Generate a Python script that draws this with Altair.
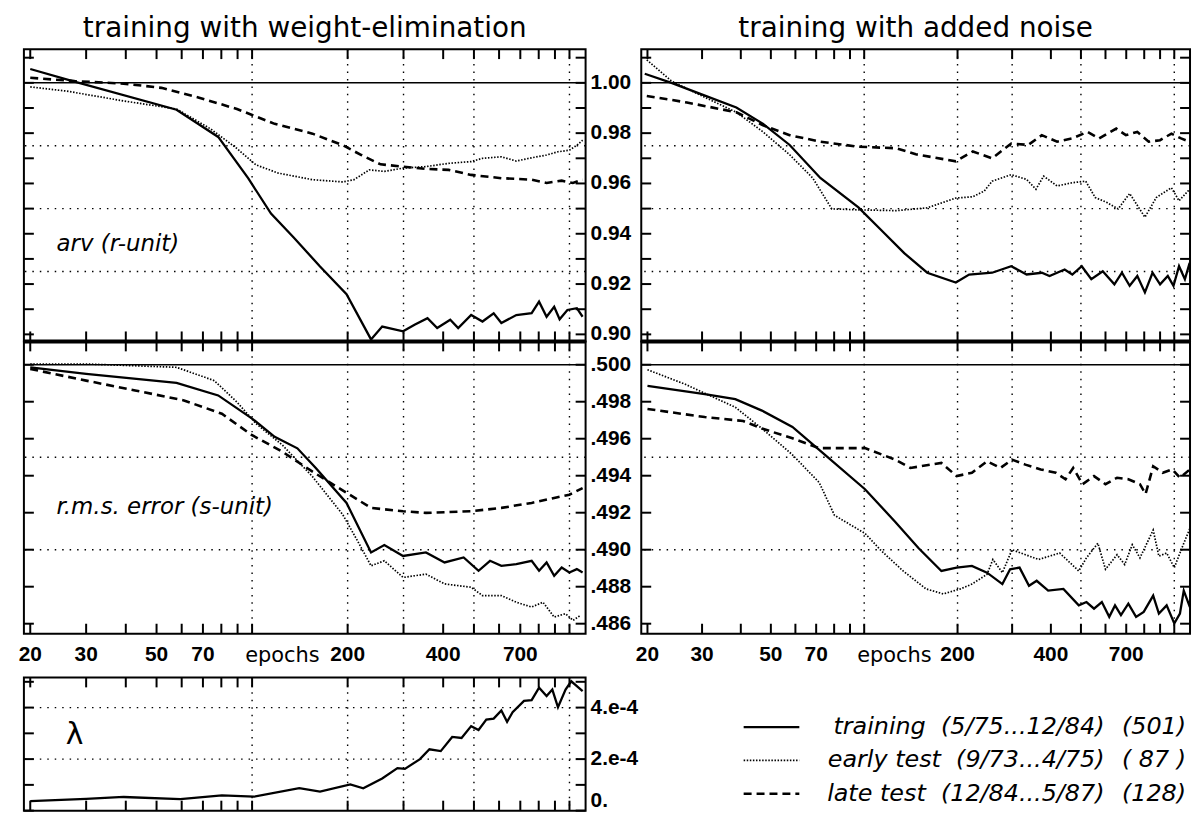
import altair as alt
import pandas as pd

# ---------------- data ----------------
# weight-elimination, arv
we_arv_train_x = [20, 27.2, 57.8, 78.2, 97.3, 114.7, 135, 163.7, 198.4, 237, 257, 299, 325, 357, 383, 421, 446, 490, 532, 577, 610, 680, 760, 802, 847, 895, 931, 985, 1055, 1100]
we_arv_train_y = [1.0055, 1.0007, 0.9893, 0.9785, 0.962, 0.948, 0.9386, 0.927, 0.916, 0.898, 0.9031, 0.9012, 0.9038, 0.9064, 0.9025, 0.9058, 0.9025, 0.9077, 0.9051, 0.9084, 0.9045, 0.9077, 0.9084, 0.913, 0.907, 0.911, 0.906, 0.9097, 0.9104, 0.907]
we_arv_early_x = [20, 26.1, 39.4, 57.8, 74, 89.6, 102.8, 121, 155, 193, 209.5, 234, 261, 299, 353, 416, 490, 532, 610, 680, 760, 847, 920, 999, 1055, 1100]
we_arv_early_y = [0.9984, 0.9967, 0.9928, 0.9896, 0.9817, 0.9739, 0.9674, 0.9641, 0.9615, 0.9606, 0.9615, 0.9654, 0.9648, 0.9661, 0.9667, 0.968, 0.9687, 0.97, 0.9706, 0.9689, 0.9702, 0.9713, 0.9726, 0.9732, 0.9752, 0.9772]
we_arv_late_x = [20, 27.6, 39.4, 51.8, 68.1, 89.6, 117.8, 155, 193, 221, 254, 299, 353, 416, 490, 610, 760, 847, 945, 1025, 1100]
we_arv_late_y = [1.002, 1.0007, 0.9997, 0.998, 0.9941, 0.9896, 0.9837, 0.9798, 0.9752, 0.9713, 0.9676, 0.9667, 0.9658, 0.9654, 0.9634, 0.9621, 0.9615, 0.9602, 0.9611, 0.9602, 0.9615]

# added noise, arv
an_arv_train_x = [19.6, 23.9, 30.8, 38.7, 47.2, 57.5, 72.2, 95.8, 113.6, 134.6, 159.7, 197.5, 218, 258.5, 298, 334, 374, 396, 443, 469, 503, 540, 588, 641, 678, 718, 760, 804, 851, 900, 953, 994, 1036, 1082, 1121]
an_arv_train_y = [1.0036, 1.0, 0.9948, 0.9902, 0.9837, 0.9753, 0.9622, 0.9505, 0.9414, 0.9323, 0.9245, 0.9206, 0.9238, 0.9245, 0.9271, 0.9238, 0.9245, 0.9232, 0.9258, 0.9238, 0.9271, 0.9219, 0.9251, 0.9199, 0.9245, 0.9193, 0.9232, 0.9167, 0.9245, 0.9199, 0.9232, 0.9193, 0.9271, 0.9219, 0.9284]
an_arv_early_x = [19.9, 23.9, 30.8, 38.7, 47.2, 57.5, 68.2, 78.6, 95.8, 127, 159.7, 197.5, 224, 244, 258.5, 298, 334, 358, 379, 419, 469, 518, 556, 605, 659, 718, 804, 875, 926, 979, 1036, 1121]
an_arv_early_y = [1.0091, 1.0007, 0.9941, 0.9883, 0.9805, 0.9714, 0.9622, 0.9499, 0.9495, 0.9492, 0.9503, 0.9542, 0.9547, 0.957, 0.9609, 0.9635, 0.9616, 0.9577, 0.9629, 0.959, 0.9603, 0.9609, 0.9544, 0.9525, 0.9499, 0.956, 0.9466, 0.9544, 0.9564, 0.9583, 0.9531, 0.9577]
an_arv_late_x = [19.9, 26.8, 38.7, 47.2, 57.5, 72.2, 95.8, 127, 146.7, 197.5, 224, 258.5, 298, 338, 374, 419, 469, 525, 572, 650, 698, 760, 827, 900, 979, 1052, 1121]
an_arv_late_y = [0.9948, 0.9922, 0.9883, 0.9831, 0.9792, 0.9766, 0.9746, 0.974, 0.9716, 0.9688, 0.9727, 0.97, 0.9759, 0.9753, 0.9792, 0.9766, 0.9779, 0.9805, 0.9779, 0.9818, 0.9792, 0.9805, 0.9766, 0.9772, 0.9798, 0.9779, 0.9766]

# weight-elimination, r.m.s. error
we_rms_train_x = [20, 30, 57.8, 78.2, 100, 117.8, 138.9, 159, 198.4, 237, 261, 299, 353, 404, 464, 517, 562, 610, 680, 760, 802, 847, 895, 945, 999, 1055, 1100]
we_rms_train_y = [0.49986, 0.4995, 0.49902, 0.49834, 0.49709, 0.4961, 0.49548, 0.4944, 0.49253, 0.48985, 0.49025, 0.48966, 0.48985, 0.48931, 0.48958, 0.48886, 0.4894, 0.48913, 0.48922, 0.4894, 0.48886, 0.48931, 0.48859, 0.48904, 0.48877, 0.48895, 0.48877]
we_rms_early_x = [20, 30, 57.8, 76, 89.6, 102.8, 124.5, 155, 193, 215, 237, 261, 299, 353, 404, 490, 532, 610, 680, 760, 825, 895, 972, 1026, 1084]
we_rms_early_y = [0.50004, 0.50004, 0.49986, 0.49914, 0.49798, 0.49682, 0.49566, 0.49395, 0.4919, 0.49047, 0.48913, 0.4894, 0.4885, 0.48868, 0.48815, 0.48797, 0.48752, 0.48752, 0.48716, 0.4869, 0.48716, 0.48636, 0.48654, 0.48618, 0.48645]
we_rms_late_x = [20, 30, 42.8, 61, 80.3, 100, 124.5, 155, 187.8, 237, 299, 353, 490, 610, 760, 895, 999, 1100]
we_rms_late_y = [0.49977, 0.49914, 0.49861, 0.49807, 0.49735, 0.49619, 0.4953, 0.49422, 0.49333, 0.49226, 0.49208, 0.49199, 0.49208, 0.49226, 0.49253, 0.4928, 0.49297, 0.49333]

# added noise, r.m.s. error
an_rms_train_x = [20, 30.6, 38.4, 46.8, 58.7, 71.6, 100.6, 126, 149.6, 177.4, 198.6, 222.5, 249, 279, 295.5, 317, 340, 360, 392, 439, 492, 521, 551, 584, 617, 644, 673, 711, 753, 797, 855, 892, 945, 1000, 1043, 1073, 1123]
an_rms_train_y = [0.49885, 0.49841, 0.49814, 0.49752, 0.49664, 0.4954, 0.49327, 0.4915, 0.49009, 0.48885, 0.48903, 0.48912, 0.48876, 0.48814, 0.48894, 0.48903, 0.48805, 0.48832, 0.48779, 0.48788, 0.48699, 0.48717, 0.48681, 0.48717, 0.48637, 0.48699, 0.48646, 0.48708, 0.48637, 0.48664, 0.48752, 0.48655, 0.48699, 0.48602, 0.48655, 0.48779, 0.4869]
an_rms_early_x = [20, 26.5, 38.4, 46.8, 58.7, 71.6, 80.2, 100.6, 112.6, 133.5, 158.3, 179.9, 204.3, 222.5, 249, 260, 279, 299.7, 331, 365, 427, 492, 521, 567, 600, 654, 692, 732, 775, 855, 892, 945, 1000, 1058, 1123]
an_rms_early_y = [0.49973, 0.49894, 0.4977, 0.49655, 0.49513, 0.49363, 0.49186, 0.49088, 0.49, 0.48885, 0.48788, 0.48761, 0.48788, 0.48814, 0.48867, 0.48947, 0.48876, 0.49, 0.48973, 0.48947, 0.48982, 0.48885, 0.48956, 0.49035, 0.48894, 0.48973, 0.4892, 0.49027, 0.48956, 0.49106, 0.48965, 0.48982, 0.48903, 0.49009, 0.49115]
an_rms_late_x = [20, 30.6, 40.7, 46.8, 58.7, 71.6, 100.6, 126, 141, 177.4, 198.6, 222.5, 249, 275, 299.7, 331, 371, 415, 446, 472, 506, 551, 600, 654, 711, 775, 808, 855, 918, 986, 1043, 1123]
an_rms_late_y = [0.49761, 0.49717, 0.49696, 0.49655, 0.49602, 0.49549, 0.49549, 0.49487, 0.49442, 0.49469, 0.49398, 0.49416, 0.49478, 0.49442, 0.49487, 0.4946, 0.49434, 0.49416, 0.49381, 0.49442, 0.49354, 0.49398, 0.49354, 0.49389, 0.49381, 0.49354, 0.49301, 0.49451, 0.49416, 0.49434, 0.49389, 0.49434]

# lambda (units of 1e-4)
lam_x = [20, 30, 39.4, 59.4, 80.3, 101.4, 140.8, 163.7, 203.9, 224, 257, 287, 303, 338, 362, 393, 427, 457, 490, 517, 547, 577, 610, 636, 662, 719, 760, 802, 847, 883, 920, 972, 1013, 1055, 1100]
lam_y = [0.37, 0.46, 0.53, 0.45, 0.59, 0.54, 0.87, 0.74, 1.02, 0.87, 1.25, 1.65, 1.62, 2.0, 2.38, 2.31, 2.86, 2.82, 3.28, 3.13, 3.53, 3.57, 3.89, 3.45, 3.82, 4.26, 4.29, 4.77, 4.45, 4.7, 4.01, 4.7, 5.02, 4.83, 4.64]

# ticks, grids, labels
x_ticks = [20, 30, 40, 50, 60, 70, 80, 90, 100, 200, 300, 400, 500, 600, 700, 800, 900, 1000]
x_grid = [100, 200, 300, 500, 1000]
x_label_vals = [20, 30, 50, 70, 200, 400, 700]
x_label_txt = ["20", "30", "50", "70", "200", "400", "700"]
x_name_val = [100]
x_name_txt = ["epochs"]
arv_ticks = [0.90, 0.91, 0.92, 0.93, 0.94, 0.95, 0.96, 0.97, 0.98, 0.99, 1.00, 1.01]
arv_label_vals = [0.90, 0.92, 0.94, 0.96, 0.98, 1.00]
arv_label_txt = ["0.90", "0.92", "0.94", "0.96", "0.98", "1.00"]
arv_grid = [0.925, 0.95, 0.975]
arv_ref = [1.0]
rms_ticks = [0.486, 0.488, 0.490, 0.492, 0.494, 0.496, 0.498, 0.500]
rms_label_vals = [0.486, 0.488, 0.490, 0.492, 0.494, 0.496, 0.498, 0.500]
rms_label_txt = [".486", ".488", ".490", ".492", ".494", ".496", ".498", ".500"]
rms_grid = [0.490, 0.495]
rms_ref = [0.500]
lam_ticks = [0, 1, 2, 3, 4, 5]
lam_label_vals = [2, 4]
lam_label_txt = ["2.e-4", "4.e-4"]
lam_zero_val = [0]
lam_zero_txt = ["0."]
lam_grid = [2, 4]

# annotations
arv_note = {"x": [24.2], "y": [0.9358], "t": ["arv (r-unit)"]}
rms_note = {"x": [24.2], "y": [0.49228], "t": ["r.m.s. error (s-unit)"]}
lam_note = {"x": [27.6], "y": [2.94], "t": ["\u03bb"]}

titles = ["training with weight-elimination", "training with added noise"]
leg_rows = [1, 2, 3]
leg_main = ["training\u00a0\u00a0(5/75...12/84)", "early test\u00a0\u00a0(9/73...4/75)", "late test\u00a0\u00a0(12/84...5/87)"]
leg_count = ["(501)", "(\u00a087\u00a0)", "(128)"]

# ---------------- styles ----------------
WL, WR = 565, 552
H1, H2 = 294, 294
GAP3, H3 = 44, 134            # gap above lambda frame, lambda frame height
H3T = GAP3 + H3
XDOM = [19.1, 1124]
ARV_DOM = [0.8972, 1.0134]
RMS_DOM = [0.48546, 0.50126]
LAM_DOM = [0, 5.17]
TL = 10
NUMFONT = "Liberation Sans"
TXTFONT = "DejaVu Sans"

STYLES = {
    "train": dict(strokeWidth=2.3),
    "early": dict(strokeWidth=1.7, strokeDash=[1.5, 1.6]),
    "late": dict(strokeWidth=2.6, strokeDash=[8, 5]),
}
NUMTXT = dict(font=NUMFONT, fontWeight="bold", fontSize=21, color="black")


def df(**cols):
    return pd.DataFrame(cols)


def panel(series, ydom, yticks, ygrid, yref, width, height, ylabels=(), xlabels=False,
          note=None, note_size=23, note_italic=True, note_align="left",
          thick_bottom=False, top=0, border=False):
    """top: empty pixel band above the frame (used for the lambda row)."""
    xs = alt.Scale(type="log", domain=XDOM, nice=False)
    if top:
        ys = alt.Scale(domain=ydom, nice=False, zero=False, range=[height, top])
    else:
        ys = alt.Scale(domain=ydom, nice=False, zero=False)
    X = lambda f: alt.X(f, scale=xs, axis=None)
    Y = lambda f: alt.Y(f, scale=ys, axis=None)
    layers = []
    dot = dict(color="black", strokeWidth=1.4, strokeDash=[1.5, 6])
    layers.append(alt.Chart(df(v=ygrid)).mark_rule(**dot).encode(y=Y("v:Q")))
    layers.append(alt.Chart(df(v=x_grid)).mark_rule(**dot).encode(
        x=X("v:Q"), y=alt.value(top), y2=alt.value(height)))
    if yref:
        layers.append(alt.Chart(df(v=yref)).mark_rule(color="black", strokeWidth=1.5).encode(y=Y("v:Q")))
    dx = df(v=x_ticks)
    dy = df(v=yticks)
    tick = dict(color="black", strokeWidth=2)
    layers.append(alt.Chart(dx).mark_rule(**tick).encode(x=X("v:Q"), y=alt.value(top), y2=alt.value(top + TL)))
    layers.append(alt.Chart(dx).mark_rule(**tick).encode(x=X("v:Q"), y=alt.value(height - TL), y2=alt.value(height)))
    layers.append(alt.Chart(dy).mark_rule(**tick).encode(y=Y("v:Q"), x=alt.value(0), x2=alt.value(TL)))
    layers.append(alt.Chart(dy).mark_rule(**tick).encode(y=Y("v:Q"), x=alt.value(width - TL), x2=alt.value(width)))
    if thick_bottom:
        layers.append(alt.Chart(df(v=[0])).mark_rule(color="black", strokeWidth=4).encode(
            x=alt.value(0), x2=alt.value(width), y=alt.value(height)))
    if border:
        layers.append(alt.Chart(df(v=[0])).mark_rect(filled=False, stroke="black", strokeWidth=2).encode(
            x=alt.value(0), x2=alt.value(width), y=alt.value(top), y2=alt.value(height)))
    for key, (xv, yv) in series.items():
        layers.append(alt.Chart(df(x=xv, y=yv)).mark_line(color="black", clip=True, **STYLES[key]).encode(
            x=X("x:Q"), y=Y("y:Q")))
    for vals, txt, base in ylabels:
        layers.append(alt.Chart(df(v=vals, t=txt)).mark_text(align="left", baseline=base, **NUMTXT).encode(
            y=Y("v:Q"), x=alt.value(width + 5), text="t:N"))
    if xlabels:
        layers.append(alt.Chart(df(v=x_label_vals, t=x_label_txt)).mark_text(align="center", baseline="middle", **NUMTXT).encode(
            x=X("v:Q"), y=alt.value(height + 21), text="t:N"))
        layers.append(alt.Chart(df(v=x_name_val, t=x_name_txt)).mark_text(
            align="left", baseline="middle", font=TXTFONT, fontSize=21, color="black", dx=-7).encode(
            x=X("v:Q"), y=alt.value(height + 22), text="t:N"))
    if note is not None:
        tkw = dict(font=TXTFONT, fontSize=note_size, align=note_align, baseline="middle", color="black")
        if note_italic:
            tkw["fontStyle"] = "italic"
        layers.append(alt.Chart(df(x=note["x"], y=note["y"], t=note["t"])).mark_text(**tkw).encode(
            x=X("x:Q"), y=Y("y:Q"), text="t:N"))
    return alt.layer(*layers).properties(width=width, height=height)


def title(t):
    return alt.TitleParams(t, font=TXTFONT, fontSize=28, fontWeight="normal", color="black",
                           anchor="middle", offset=5)


arv_left = panel({"early": (we_arv_early_x, we_arv_early_y), "late": (we_arv_late_x, we_arv_late_y),
                  "train": (we_arv_train_x, we_arv_train_y)},
                 ARV_DOM, arv_ticks, arv_grid, arv_ref, WL, H1,
                 ylabels=[(arv_label_vals, arv_label_txt, "middle")], note=arv_note, thick_bottom=True
                 ).properties(title=title(titles[0]))
arv_right = panel({"early": (an_arv_early_x, an_arv_early_y), "late": (an_arv_late_x, an_arv_late_y),
                   "train": (an_arv_train_x, an_arv_train_y)},
                  ARV_DOM, arv_ticks, arv_grid, arv_ref, WR, H1, thick_bottom=True
                  ).properties(title=title(titles[1]))
rms_left = panel({"early": (we_rms_early_x, we_rms_early_y), "late": (we_rms_late_x, we_rms_late_y),
                  "train": (we_rms_train_x, we_rms_train_y)},
                 RMS_DOM, rms_ticks, rms_grid, rms_ref, WL, H2,
                 ylabels=[(rms_label_vals, rms_label_txt, "middle")], xlabels=True, note=rms_note)
rms_right = panel({"early": (an_rms_early_x, an_rms_early_y), "late": (an_rms_late_x, an_rms_late_y),
                   "train": (an_rms_train_x, an_rms_train_y)},
                  RMS_DOM, rms_ticks, rms_grid, rms_ref, WR, H2, xlabels=True)
lam_panel = panel({"train": (lam_x, lam_y)}, LAM_DOM, lam_ticks, lam_grid, [], WL, H3T,
                  ylabels=[(lam_label_vals, lam_label_txt, "middle"), (lam_zero_val, lam_zero_txt, "bottom")],
                  note=lam_note, note_size=30, note_italic=False, note_align="center",
                  top=GAP3, border=True).properties(view=alt.ViewBackground(strokeWidth=0, stroke="white"))

# legend panel
leg = df(row=leg_rows, main=leg_main, count=leg_count)
lys = alt.Scale(domain=[1, 3], range=[GAP3 + 50, GAP3 + 117], nice=False, zero=False)
leg_layers = []
for r, key in zip(leg_rows, ["train", "early", "late"]):
    leg_layers.append(alt.Chart(leg).transform_filter(alt.datum.row == r).mark_rule(color="black", **STYLES[key]).encode(
        x=alt.value(103), x2=alt.value(159), y=alt.Y("row:Q", scale=lys, axis=None)))
ltxt = dict(font=TXTFONT, fontStyle="italic", fontSize=24, baseline="middle", color="black", align="right")
leg_layers.append(alt.Chart(leg).mark_text(**ltxt).encode(
    x=alt.value(466), y=alt.Y("row:Q", scale=lys, axis=None), text="main:N"))
leg_layers.append(alt.Chart(leg).mark_text(**ltxt).encode(
    x=alt.value(548), y=alt.Y("row:Q", scale=lys, axis=None), text="count:N"))
legend = alt.layer(*leg_layers).properties(width=WR, height=H3T,
                                           view=alt.ViewBackground(strokeWidth=0, stroke="white"))

chart = alt.concat(arv_left, arv_right, rms_left, rms_right, lam_panel, legend,
                   columns=2, spacing={"row": 0, "column": 56}, bounds="flush").properties(
    padding={"left": 9, "top": 4, "right": 0, "bottom": 0},
    background="white",
).configure_view(stroke="black", strokeWidth=2)

chart.save("out.html", embed_options={"renderer": "svg", "actions": False})
